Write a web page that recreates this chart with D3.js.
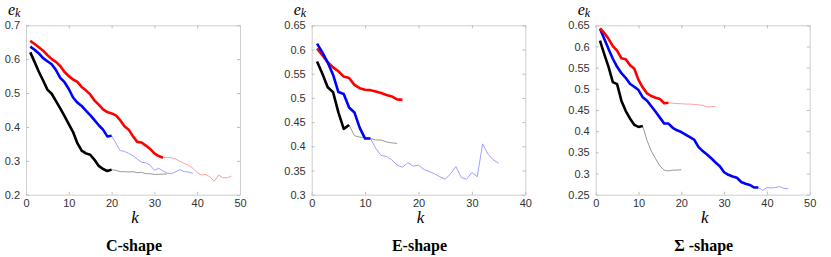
<!DOCTYPE html>
<html>
<head>
<meta charset="utf-8">
<script src="https://cdn.jsdelivr.net/npm/d3@7"></script>
<style>
  body { margin: 0; background: #fff; }
  .tick text { font-family: "Liberation Sans", Helvetica, Arial, sans-serif; font-size: 11px; fill: #333; }
  .serif { font-family: "Liberation Serif", "DejaVu Serif", serif; }
</style>
</head>
<body>
<div id="chart"></div>
<script>
// C-shape
var cRed = [0.654,0.645,0.635,0.625,0.612,0.600,0.592,0.580,0.562,0.550,0.540,0.533,0.518,0.508,0.496,0.478,0.466,0.452,0.444,0.440,0.434,0.420,0.402,0.392,0.372,0.356,0.354,0.345,0.335,0.322,0.314,0.309];
var cRedThin = [0.309,0.310,0.309,0.305,0.298,0.292,0.287,0.278,0.265,0.258,0.260,0.252,0.240,0.258,0.250,0.250,0.255];
var cBlue = [0.637,0.628,0.617,0.603,0.594,0.585,0.568,0.545,0.532,0.512,0.487,0.472,0.462,0.448,0.435,0.420,0.405,0.392,0.372,0.374];
var cBlueThin = [0.374,0.352,0.330,0.328,0.322,0.315,0.305,0.296,0.294,0.287,0.272,0.278,0.270,0.264,0.262,0.268,0.274,0.268,0.267,0.263];
var cBlack = [0.620,0.592,0.563,0.537,0.510,0.498,0.476,0.455,0.432,0.408,0.385,0.352,0.330,0.322,0.318,0.303,0.285,0.276,0.270,0.274];
var cGray = [0.274,0.272,0.268,0.268,0.267,0.268,0.265,0.266,0.262,0.262,0.260,0.260,0.261,0.261];

// E-shape
var eRed = [0.602,0.588,0.574,0.563,0.555,0.544,0.541,0.527,0.520,0.517,0.516,0.513,0.510,0.506,0.503,0.497,0.496];
var eBlue = [0.612,0.594,0.573,0.548,0.512,0.508,0.480,0.470,0.438,0.416,0.416];
var eBlueThin = [0.416,0.396,0.381,0.379,0.372,0.361,0.357,0.366,0.359,0.361,0.352,0.348,0.343,0.337,0.332,0.343,0.358,0.336,0.332,0.346,0.337,0.405,0.384,0.372,0.365];
var eBlack = [0.575,0.550,0.522,0.512,0.470,0.436,0.444];
var eGray = [0.444,0.422,0.419,0.418,0.416,0.413,0.413,0.409,0.407,0.406];

// Sigma-shape
var sRed = [0.643,0.632,0.618,0.601,0.590,0.572,0.570,0.556,0.548,0.521,0.503,0.489,0.483,0.479,0.476,0.466,0.467];
var sRedThin = [0.467,0.466,0.465,0.465,0.464,0.464,0.463,0.462,0.461,0.457,0.458,0.458];
var sBlue = [0.642,0.618,0.594,0.571,0.552,0.537,0.526,0.512,0.505,0.497,0.480,0.472,0.459,0.446,0.432,0.418,0.418,0.408,0.402,0.398,0.392,0.386,0.380,0.363,0.353,0.345,0.336,0.326,0.317,0.303,0.297,0.293,0.290,0.280,0.276,0.273,0.267,0.267];
var sBlueThin = [0.267,0.260,0.267,0.266,0.267,0.269,0.265,0.264];
var sBlack = [0.614,0.582,0.552,0.516,0.511,0.472,0.448,0.430,0.415,0.410,0.412];
var sGray = [0.412,0.378,0.353,0.335,0.318,0.308,0.306,0.308,0.308,0.309];

var yTicksC = [0.2,0.3,0.4,0.5,0.6,0.7];
var yTicksE = [0.3,0.35,0.4,0.45,0.5,0.55,0.6,0.65];
var yTicksS = [0.25,0.3,0.35,0.4,0.45,0.5,0.55,0.6,0.65];

var panels = [
  {left: 26, right: 240, xmax: 50, xticks: [0,10,20,30,40,50], ymin: 0.2, ymax: 0.7, yticks: yTicksC, title: "C-shape",
   series: [
     {d: cGray, start: 20, color: "#999", w: 1},
     {d: cBlueThin, start: 20, color: "#a0a0ff", w: 1},
     {d: cRedThin, start: 32, color: "#ffa0a0", w: 1},
     {d: cBlack, start: 1, color: "#000", w: 2.6},
     {d: cBlue, start: 1, color: "#0000ff", w: 2.6},
     {d: cRed, start: 1, color: "#ff0000", w: 2.6}]},
  {left: 311.7, right: 525.3, xmax: 40, xticks: [0,10,20,30,40], ymin: 0.3, ymax: 0.65, yticks: yTicksE, title: "E-shape",
   series: [
     {d: eGray, start: 7, color: "#999", w: 1},
     {d: eBlueThin, start: 11, color: "#a0a0ff", w: 1},
     {d: eBlack, start: 1, color: "#000", w: 2.6},
     {d: eRed, start: 1, color: "#ff0000", w: 2.6},
     {d: eBlue, start: 1, color: "#0000ff", w: 2.6}]},
  {left: 595.7, right: 809.7, xmax: 50, xticks: [0,10,20,30,40,50], ymin: 0.25, ymax: 0.65, yticks: yTicksS, title: "\u03A3 -shape",
   series: [
     {d: sGray, start: 11, color: "#999", w: 1},
     {d: sBlueThin, start: 38, color: "#a0a0ff", w: 1},
     {d: sRedThin, start: 17, color: "#ffa0a0", w: 1},
     {d: sBlack, start: 1, color: "#000", w: 2.6},
     {d: sBlue, start: 1, color: "#0000ff", w: 2.6},
     {d: sRed, start: 1, color: "#ff0000", w: 2.6}]}
];

var plotTop = 25.3, plotBottom = 194.7;
var fmt = function(v){ return String(+v.toFixed(2)); };

var svg = d3.select("#chart")
  .append("svg")
    .attr("width", 831)
    .attr("height", 257);

panels.forEach(function(p){
  var x = d3.scaleLinear().domain([0, p.xmax]).range([p.left, p.right]);
  var y = d3.scaleLinear().domain([p.ymin, p.ymax]).range([plotBottom, plotTop]);
  var g = svg.append("g");

  // box with inward ticks on all sides
  g.append("g")
    .attr("transform", "translate(0," + plotBottom + ")")
    .call(d3.axisBottom(x).tickValues(p.xticks).tickSizeInner(-3).tickSizeOuter(0).tickPadding(5).tickFormat(d3.format("d")));
  g.append("g")
    .attr("transform", "translate(0," + plotTop + ")")
    .call(d3.axisTop(x).tickValues(p.xticks).tickSizeInner(-3).tickSizeOuter(0).tickFormat(""));
  g.append("g")
    .attr("transform", "translate(" + p.left + ",0)")
    .call(d3.axisLeft(y).tickValues(p.yticks).tickSizeInner(-3).tickSizeOuter(0).tickPadding(6).tickFormat(fmt));
  g.append("g")
    .attr("transform", "translate(" + p.right + ",0)")
    .call(d3.axisRight(y).tickValues(p.yticks).tickSizeInner(-3).tickSizeOuter(0).tickFormat(""));
  g.selectAll(".domain").attr("stroke", "#cfcfcf");
  g.selectAll(".tick line").attr("stroke", "#bdbdbd");

  var line = d3.line()
    .x(function(d){ return x(d[0]); })
    .y(function(d){ return y(d[1]); });

  p.series.forEach(function(s){
    var pts = s.d.map(function(v, i){ return [s.start + i, v]; });
    g.append("path")
      .datum(pts)
      .attr("fill", "none")
      .attr("stroke", s.color)
      .attr("stroke-width", s.w)
      .attr("stroke-linejoin", "round")
      .attr("d", line);
  });

  // e_k label
  var ek = g.append("text")
    .attr("class", "serif")
    .attr("x", p.left - 18)
    .attr("y", 15)
    .style("font-style", "italic")
    .style("font-size", "16px");
  ek.append("tspan").text("e");
  ek.append("tspan").attr("dy", 2).style("font-size", "12px").text("k");

  // x label
  g.append("text")
    .attr("class", "serif")
    .attr("x", (p.left + p.right) / 2 + 2)
    .attr("y", 223)
    .attr("text-anchor", "middle")
    .style("font-style", "italic")
    .style("font-size", "17px")
    .text("k");

  // title
  g.append("text")
    .attr("class", "serif")
    .attr("x", (p.left + p.right) / 2 + 1)
    .attr("y", 251)
    .attr("text-anchor", "middle")
    .style("font-weight", "bold")
    .style("font-size", "16px")
    .text(p.title);
});
</script>
</body>
</html>
